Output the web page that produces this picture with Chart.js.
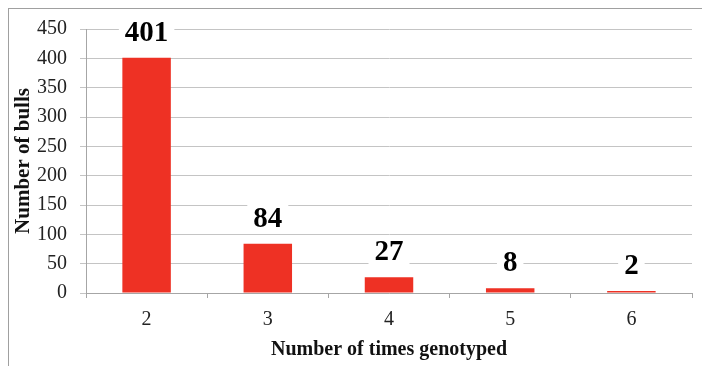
<!DOCTYPE html>
<html>
<head>
<meta charset="utf-8">
<script src="https://cdn.jsdelivr.net/npm/chart.js@4/dist/chart.umd.min.js"></script>
<style>
  html, body { margin: 0; padding: 0; background: #fff; }
  #frame {
    position: absolute; left: 8px; top: 8px; right: -2px; bottom: -2px;
    border-left: 1px solid #a0a0a0; border-top: 1px solid #a0a0a0;
  }
  #wrap { position: absolute; left: 0; top: 0; width: 702px; height: 366px; }
</style>
</head>
<body>
<div id="frame"></div>
<div id="wrap"><canvas id="chart" width="702" height="366"></canvas></div>
<script>
// Bulls grouped by how many times they were genotyped
const timesGenotyped = ['2', '3', '4', '5', '6'];
const bullCounts = [401, 84, 27, 8, 2];
const yTicks = [0, 50, 100, 150, 200, 250, 300, 350, 400, 450];

const serif = '"Liberation Serif", "Times New Roman", serif';

// Value labels above each bar, on a white box that hides the gridlines behind them
const valueLabels = {
  id: 'valueLabels',
  afterDatasetsDraw(chart) {
    const ctx = chart.ctx;
    const meta = chart.getDatasetMeta(0);
    ctx.save();
    ctx.font = 'bold 29px ' + serif;
    ctx.textAlign = 'center';
    ctx.textBaseline = 'middle';
    meta.data.forEach((bar, i) => {
      const text = String(bullCounts[i]);
      const cy = bar.y - 25.5;
      const w = ctx.measureText(text).width + 12;
      ctx.fillStyle = '#ffffff';
      ctx.fillRect(bar.x - w / 2, cy - 15, w, 30);
      ctx.fillStyle = '#000000';
      ctx.fillText(text, bar.x, cy + 1);
    });
    ctx.restore();
  }
};

new Chart(document.getElementById('chart'), {
  type: 'bar',
  data: {
    labels: timesGenotyped,
    datasets: [{
      data: bullCounts,
      backgroundColor: '#ee3124',
      borderWidth: 0,
      categoryPercentage: 1,
      barPercentage: 0.4,
      minBarLength: 2
    }]
  },
  options: {
    responsive: false,
    animation: false,
    events: [],
    layout: { padding: { left: 0, right: 10, top: 29, bottom: 0 } },
    plugins: { legend: { display: false }, tooltip: { enabled: false } },
    scales: {
      x: {
        grid: {
          offset: true, drawOnChartArea: false, drawTicks: true,
          tickLength: 5, color: '#a6a6a6'
        },
        border: { color: '#a6a6a6' },
        ticks: { color: '#222', font: { family: serif, size: 20 }, padding: 10 },
        title: {
          display: true, text: 'Number of times genotyped', color: '#111',
          font: { family: serif, size: 20, weight: 'bold' },
          padding: { top: 3, bottom: 4 }
        },
        afterFit(scale) { scale.height = 73; }
      },
      y: {
        min: 0, max: 450,
        afterBuildTicks(scale) { scale.ticks = yTicks.map(v => ({ value: v })); },
        grid: { color: '#c4c4c4', tickLength: 6, drawTicks: true },
        border: { color: '#a6a6a6' },
        ticks: { color: '#222', font: { family: serif, size: 20 }, padding: 13 },
        title: {
          display: true, text: 'Number of bulls', color: '#111',
          font: { family: serif, size: 21, weight: 'bold' },
          padding: { top: 11, bottom: 4 }
        },
        afterFit(scale) { scale.width = 86; }
      }
    }
  },
  plugins: [valueLabels]
});
</script>
</body>
</html>
